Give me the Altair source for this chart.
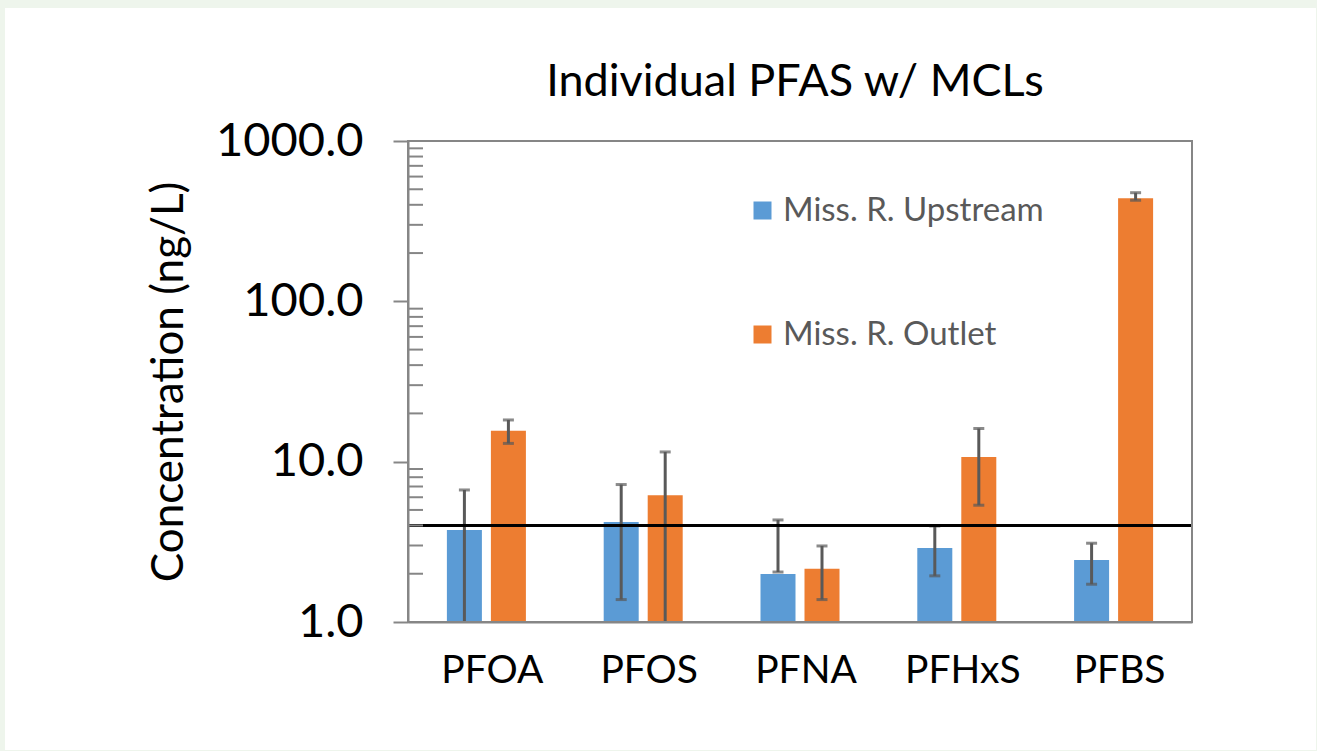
import altair as alt
import pandas as pd

title_text = ["Individual PFAS w/ MCLs"]
categories = ["PFOA", "PFOS", "PFNA", "PFHxS", "PFBS"]
series_names = ["Miss. R. Upstream", "Miss. R. Outlet"]
upstream = [3.75, 4.2, 1.99, 2.89, 2.44]
upstream_hi = [6.66, 7.2, 4.33, 3.97, 3.10]
upstream_lo = [0.85, 1.38, 2.05, 1.94, 1.72]
outlet = [15.6, 6.17, 2.15, 10.7, 440.0]
outlet_hi = [18.2, 11.5, 2.98, 16.1, 476.0]
outlet_lo = [13.0, 0.9, 1.38, 5.35, 427.0]
mcl_value = [4.0]
y_ticks = [1, 10, 100, 1000]
minor_ticks = [2, 3, 4, 5, 6, 7, 8, 9, 20, 30, 40, 50, 60, 70, 80, 90,
               200, 300, 400, 500, 600, 700, 800, 900]
colors = ["#5B9BD5", "#ED7D31"]

rows = []
for i, c in enumerate(categories):
    rows.append(dict(cat=c, series=series_names[0], value=upstream[i], lo=upstream_lo[i], hi=upstream_hi[i]))
    rows.append(dict(cat=c, series=series_names[1], value=outlet[i], lo=outlet_lo[i], hi=outlet_hi[i]))
df = pd.DataFrame(rows)

W, H = 784, 481
FONT = "Lato"
AXIS_GRAY = "#868686"
ERR_GRAY = "#595959"

x_enc = alt.X("cat:N", sort=categories,
              scale=alt.Scale(paddingInner=0, paddingOuter=0),
              axis=alt.Axis(title=None, labelFontSize=39, labelFont=FONT, labelColor="black",
                            ticks=False, domainColor=AXIS_GRAY, domainWidth=2,
                            labelPadding=29, labelAngle=0, labelOffset=6, zindex=1))
xo_enc = alt.XOffset("series:N", sort=series_names,
                     scale=alt.Scale(paddingInner=0.2045, paddingOuter=0.884))
y_scale = alt.Scale(type="log", domain=[1, 1000])

bg = alt.Chart(pd.DataFrame({"a": [0]})).mark_rect(color="white").encode(
    x=alt.value(5 - 408), x2=alt.value(1316 - 408),
    y=alt.value(8 - 141), y2=alt.value(750 - 141))

bars = alt.Chart(df).mark_bar().encode(
    x=x_enc, xOffset=xo_enc,
    y=alt.Y("value:Q", scale=y_scale,
            axis=alt.Axis(values=y_ticks, format=".1f", grid=False,
                          domainColor=AXIS_GRAY, domainWidth=2,
                          tickColor=AXIS_GRAY, tickWidth=2, tickSize=15,
                          labelPadding=30, labelFontSize=47, labelFont=FONT, labelColor="black",
                          title="Concentration (ng/L)", titleFontSize=44, titleFont=FONT,
                          titleFontWeight="normal", titleColor="black", titlePadding=24,
                          zindex=1)),
    y2=alt.datum(1),
    color=alt.Color("series:N", sort=series_names,
                    scale=alt.Scale(domain=series_names, range=colors),
                    legend=alt.Legend(title=None, orient="none", legendX=338, legendY=53,
                                      symbolType="square", symbolSize=324, symbolStrokeWidth=0,
                                      labelFontSize=33, labelFont=FONT, labelColor=ERR_GRAY,
                                      labelLimit=500, zindex=1,
                                      rowPadding=90, labelOffset=4, direction="vertical")),
)

err = alt.Chart(df).mark_rule(color=ERR_GRAY, strokeWidth=3, clip=True).encode(
    x=alt.X("cat:N", sort=categories), xOffset=alt.XOffset("series:N", sort=series_names),
    y=alt.Y("lo:Q", scale=y_scale), y2="hi:Q")
cap_hi = alt.Chart(df).mark_tick(color=ERR_GRAY, thickness=3, size=11, clip=True).encode(
    x=alt.X("cat:N", sort=categories), xOffset=alt.XOffset("series:N", sort=series_names),
    y=alt.Y("hi:Q", scale=y_scale))
cap_lo = alt.Chart(df).mark_tick(color=ERR_GRAY, thickness=3, size=11, clip=True).encode(
    x=alt.X("cat:N", sort=categories), xOffset=alt.XOffset("series:N", sort=series_names),
    y=alt.Y("lo:Q", scale=y_scale))

mcl = alt.Chart(pd.DataFrame({"mcl": mcl_value})).mark_rule(color="black", strokeWidth=3).encode(
    y=alt.Y("mcl:Q", scale=y_scale))

minor = alt.Chart(pd.DataFrame({"m": minor_ticks})).mark_rule(color=AXIS_GRAY, strokeWidth=2).encode(
    y=alt.Y("m:Q", scale=y_scale), x=alt.value(0), x2=alt.value(15))

frame = alt.Chart(pd.DataFrame({"a": [0]})).mark_rect(filled=False, stroke=AXIS_GRAY, strokeWidth=2).encode(
    x=alt.value(0), x2=alt.value(W), y=alt.value(0), y2=alt.value(H))

title = alt.Chart(pd.DataFrame({"t": title_text})).mark_text(
    font=FONT, fontSize=45, color="black", align="center", baseline="alphabetic").encode(
    text="t:N", x=alt.value(387), y=alt.value(-45))

chart = alt.layer(bg, bars, err, cap_hi, cap_lo, mcl, minor, frame, title).properties(
    width=W, height=H,
    background="#eef5ec",
    autosize=alt.AutoSizeParams(type="none"),
    padding={"left": 408, "top": 141, "right": 125, "bottom": 129},
).configure_view(stroke=None)

chart.save("out.html", embed_options={"renderer": "svg", "actions": False})
